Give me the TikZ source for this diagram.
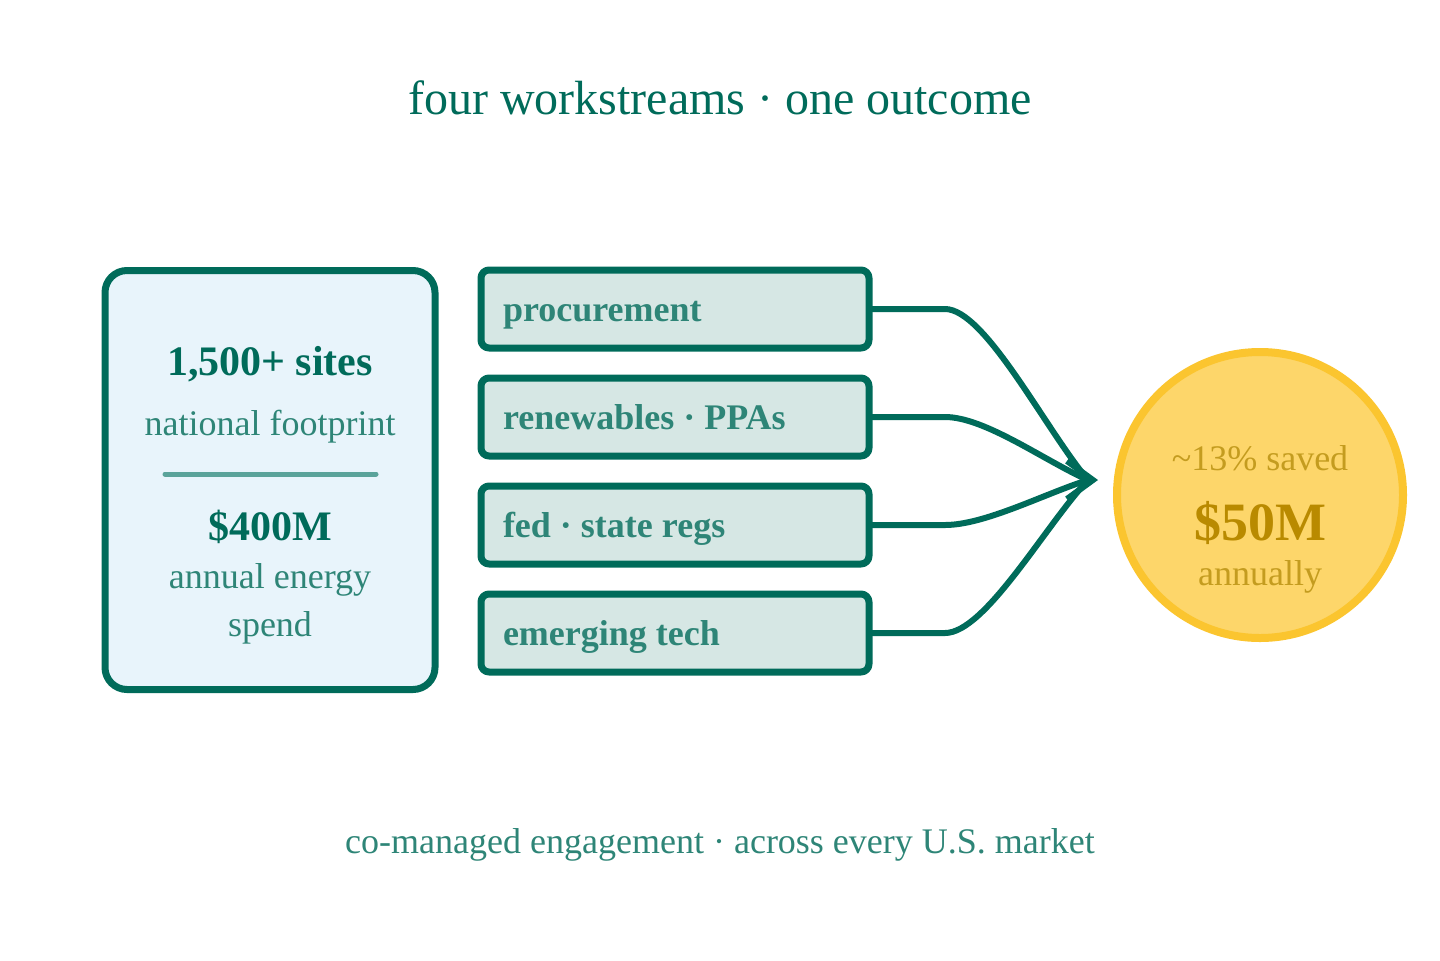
\documentclass[tikz,border=0pt]{standalone}
\usepackage{fontspec}
\setmainfont{Liberation Serif}
\usetikzlibrary{arrows.meta}

\definecolor{deepteal}{HTML}{006B5A}
\definecolor{softteal}{HTML}{2E8577}
\definecolor{ruleteal}{HTML}{5AA39A}
\definecolor{skyfill}{HTML}{E8F4FB}
\definecolor{mintfill}{HTML}{D6E7E4}
\definecolor{goldfill}{HTML}{FDD66A}
\definecolor{goldline}{HTML}{FBC52F}
\definecolor{goldtext}{HTML}{C49C1F}
\definecolor{golddeep}{HTML}{B98A00}

\tikzset{
  streambox/.style={draw=deepteal, fill=mintfill, line width=3.5pt, rounded corners=4pt,
    minimum height=39pt, text width=172pt, inner xsep=11pt, align=flush left,
    text height=13pt, text depth=1pt, font=\fontsize{18}{20}\selectfont\bfseries, text=softteal},
  flow/.style={draw=deepteal, line width=3pt},
}

\begin{document}
\begin{tikzpicture}[x=0.5pt, y=-0.5pt, line join=round, line cap=round]
	\useasboundingbox (0,0) rectangle (1440,960);

	% title
	\node (title) at (720,98) {\fontsize{24}{28}\selectfont\color{deepteal} four workstreams · one outcome};

	% left panel
	\node[draw=deepteal, fill=skyfill, line width=3.5pt, rounded corners=11pt,
	  minimum width=165pt, minimum height=209.5pt] (panel) at (270,480) {};
	\node[anchor=base, text=deepteal, font=\fontsize{21}{24}\selectfont\bfseries] (sites) at (270,375) {1,500+ sites};
	\node[anchor=base, text=softteal, font=\fontsize{18}{22}\selectfont] (foot) at (270,435) {national footprint};
	\coordinate (ruleL) at (165,474);
	\coordinate (ruleR) at (376,474);
	\draw[ruleteal, line width=2.5pt] (ruleL) -- (ruleR);
	\node[anchor=base, text=deepteal, font=\fontsize{21}{24}\selectfont\bfseries] (spend) at (270,540) {\$400M};
	\node[anchor=base, text=softteal, font=\fontsize{18}{22}\selectfont] (annual) at (270,588) {annual energy};
	\node[anchor=base, text=softteal, font=\fontsize{18}{22}\selectfont] (spendword) at (270,636) {spend};

	% outcome
	\node[circle, draw=goldline, fill=goldfill, line width=4pt, minimum size=143pt] (goal) at (1260,495) {};
	\node[anchor=base, text=goldtext, font=\fontsize{18}{20}\selectfont] (pct) at (1260,470) {\textasciitilde13\% saved};
	\node[anchor=base, text=golddeep, font=\fontsize{27}{30}\selectfont\bfseries] (amount) at (1260,540) {\$50M};
	\node[anchor=base, text=goldtext, font=\fontsize{18}{22}\selectfont] (yearly) at (1260,585) {annually};

	\coordinate (tip) at (1088,480);
	\coordinate (tipend) at (1098,480);

	% workstreams and connectors
	\foreach \y/\name/\txt in {309/proc/procurement, 417/renew/renewables · PPAs,
	    525/regs/fed · state regs, 633/tech/emerging tech}{
		\node[streambox] (\name) at (675,\y) {\txt};
		\draw[flow] (\name.east) -- (945,\y)
		  .. controls (985,\y) and (1045,{480+(\y-480)*0.3}) .. (tip);
	}
	\draw[flow, -{Straight Barb[length=13pt, width=19pt]}] (tip) -- (tipend);

	% footer
	\node (foot2) at (720,845) {\fontsize{18}{20}\selectfont\color{softteal} co-managed engagement · across every U.S. market};
\end{tikzpicture}
\end{document}
